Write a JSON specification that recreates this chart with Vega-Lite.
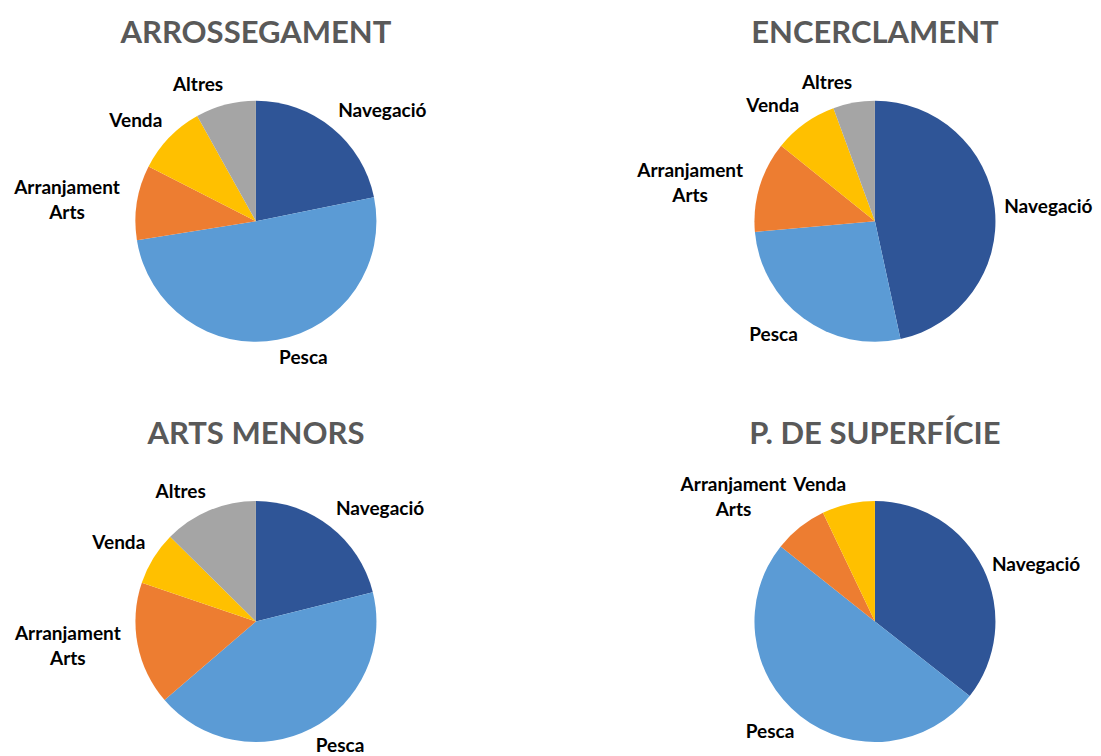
{
  "$schema": "https://vega.github.io/schema/vega-lite/v6.json",
  "width": 1101,
  "height": 756,
  "padding": 0,
  "autosize": {"type": "none"},
  "background": "white",
  "config": {
    "view": {"stroke": null},
    "font": "Lato",
    "text": {
      "radius": 130, "font": "Lato", "fontSize": 19, "fontWeight": "bold", "color": "#000000", "lineBreak": " ", "lineHeight": 25
    }
  },
  "data": {
    "values": [
      {"chart": "ARROSSEGAMENT", "col": "L", "row": "T", "cat": "Navegació", "k": 1, "v": 21.8},
      {"chart": "ARROSSEGAMENT", "col": "L", "row": "T", "cat": "Pesca", "k": 2, "v": 50.7},
      {"chart": "ARROSSEGAMENT", "col": "L", "row": "T", "cat": "Arranjament Arts", "k": 3, "v": 10.0},
      {"chart": "ARROSSEGAMENT", "col": "L", "row": "T", "cat": "Venda", "k": 4, "v": 9.4},
      {"chart": "ARROSSEGAMENT", "col": "L", "row": "T", "cat": "Altres", "k": 5, "v": 8.1},
      {"chart": "ENCERCLAMENT", "col": "R", "row": "T", "cat": "Navegació", "k": 1, "v": 46.6},
      {"chart": "ENCERCLAMENT", "col": "R", "row": "T", "cat": "Pesca", "k": 2, "v": 27.0},
      {"chart": "ENCERCLAMENT", "col": "R", "row": "T", "cat": "Arranjament Arts", "k": 3, "v": 12.2},
      {"chart": "ENCERCLAMENT", "col": "R", "row": "T", "cat": "Venda", "k": 4, "v": 8.6},
      {"chart": "ENCERCLAMENT", "col": "R", "row": "T", "cat": "Altres", "k": 5, "v": 5.6},
      {"chart": "ARTS MENORS", "col": "L", "row": "B", "cat": "Navegació", "k": 1, "v": 21.1},
      {"chart": "ARTS MENORS", "col": "L", "row": "B", "cat": "Pesca", "k": 2, "v": 42.6},
      {"chart": "ARTS MENORS", "col": "L", "row": "B", "cat": "Arranjament Arts", "k": 3, "v": 16.5},
      {"chart": "ARTS MENORS", "col": "L", "row": "B", "cat": "Venda", "k": 4, "v": 7.2},
      {"chart": "ARTS MENORS", "col": "L", "row": "B", "cat": "Altres", "k": 5, "v": 12.6},
      {"chart": "P. DE SUPERFÍCIE", "col": "R", "row": "B", "cat": "Navegació", "k": 1, "v": 35.6},
      {"chart": "P. DE SUPERFÍCIE", "col": "R", "row": "B", "cat": "Pesca", "k": 2, "v": 50.1},
      {"chart": "P. DE SUPERFÍCIE", "col": "R", "row": "B", "cat": "Arranjament Arts", "k": 3, "v": 7.2},
      {"chart": "P. DE SUPERFÍCIE", "col": "R", "row": "B", "cat": "Venda", "k": 4, "v": 7.1}
    ]
  },
  "encoding": {
    "x": {"field": "col", "type": "nominal", "scale": {"type": "point", "domain": ["L", "R"], "padding": 0.3893, "align": 0.531}, "axis": null},
    "y": {"field": "row", "type": "nominal", "scale": {"type": "point", "domain": ["T", "B"], "padding": 0.4445, "align": 0.622}, "axis": null}
  },
  "layer": [
    {
      "transform": [{"filter": "datum.chart === 'ARROSSEGAMENT'"}],
      "layer": [
        {
          "mark": {"type": "arc", "radius": 120.5},
          "encoding": {
            "theta": {"field": "v", "type": "quantitative", "stack": "normalize"},
            "color": {"field": "cat", "type": "nominal", "legend": null, "scale": {"domain": ["Navegació", "Pesca", "Arranjament Arts", "Venda", "Altres"], "range": ["#2F5597", "#5B9BD5", "#ED7D31", "#FFC000", "#A5A5A5"]}},
            "order": {"field": "k", "type": "quantitative"}
          }
        },
        {
          "mark": {"type": "text",
            "align": {"expr": "indexof(datum.cat, ' ') >= 0 ? 'center' : (sin(PI*(datum.v_start+datum.v_end)) > 0.1 ? 'left' : (sin(PI*(datum.v_start+datum.v_end)) < -0.1 ? 'right' : 'center'))"},
            "baseline": {"expr": "cos(PI*(datum.v_start+datum.v_end)) > 0.5 ? 'bottom' : (cos(PI*(datum.v_start+datum.v_end)) < -0.5 ? 'top' : 'middle')"},
            "dx": {"expr": "indexof(datum.cat, ' ') >= 0 ? (sin(PI*(datum.v_start+datum.v_end)) > 0.1 ? 1 : (sin(PI*(datum.v_start+datum.v_end)) < -0.1 ? -1 : 0)) * 5.5 * max(indexof(datum.cat, ' '), length(datum.cat) - indexof(datum.cat, ' ') - 1) : 0"},
            "dy": {"expr": "indexof(datum.cat, ' ') >= 0 ? (cos(PI*(datum.v_start+datum.v_end)) > 0.5 ? -25 : (cos(PI*(datum.v_start+datum.v_end)) < -0.5 ? 0 : -12.5)) : 0"}},
          "encoding": {
            "theta": {"field": "v", "type": "quantitative", "stack": "normalize"},
            "detail": {"field": "cat", "type": "nominal"},
            "order": {"field": "k", "type": "quantitative"},
            "text": {"field": "cat", "type": "nominal"}
          }
        }
      ]
    },
    {
      "transform": [{"filter": "datum.chart === 'ENCERCLAMENT'"}],
      "layer": [
        {
          "mark": {"type": "arc", "radius": 120.5},
          "encoding": {
            "theta": {"field": "v", "type": "quantitative", "stack": "normalize"},
            "color": {"field": "cat", "type": "nominal", "legend": null},
            "order": {"field": "k", "type": "quantitative"}
          }
        },
        {
          "mark": {"type": "text",
            "align": {"expr": "indexof(datum.cat, ' ') >= 0 ? 'center' : (sin(PI*(datum.v_start+datum.v_end)) > 0.1 ? 'left' : (sin(PI*(datum.v_start+datum.v_end)) < -0.1 ? 'right' : 'center'))"},
            "baseline": {"expr": "cos(PI*(datum.v_start+datum.v_end)) > 0.5 ? 'bottom' : (cos(PI*(datum.v_start+datum.v_end)) < -0.5 ? 'top' : 'middle')"},
            "dx": {"expr": "indexof(datum.cat, ' ') >= 0 ? (sin(PI*(datum.v_start+datum.v_end)) > 0.1 ? 1 : (sin(PI*(datum.v_start+datum.v_end)) < -0.1 ? -1 : 0)) * 5.5 * max(indexof(datum.cat, ' '), length(datum.cat) - indexof(datum.cat, ' ') - 1) : 0"},
            "dy": {"expr": "indexof(datum.cat, ' ') >= 0 ? (cos(PI*(datum.v_start+datum.v_end)) > 0.5 ? -25 : (cos(PI*(datum.v_start+datum.v_end)) < -0.5 ? 0 : -12.5)) : 0"}},
          "encoding": {
            "theta": {"field": "v", "type": "quantitative", "stack": "normalize"},
            "detail": {"field": "cat", "type": "nominal"},
            "order": {"field": "k", "type": "quantitative"},
            "text": {"field": "cat", "type": "nominal"}
          }
        }
      ]
    },
    {
      "transform": [{"filter": "datum.chart === 'ARTS MENORS'"}],
      "layer": [
        {
          "mark": {"type": "arc", "radius": 120.5},
          "encoding": {
            "theta": {"field": "v", "type": "quantitative", "stack": "normalize"},
            "color": {"field": "cat", "type": "nominal", "legend": null},
            "order": {"field": "k", "type": "quantitative"}
          }
        },
        {
          "mark": {"type": "text",
            "align": {"expr": "indexof(datum.cat, ' ') >= 0 ? 'center' : (sin(PI*(datum.v_start+datum.v_end)) > 0.1 ? 'left' : (sin(PI*(datum.v_start+datum.v_end)) < -0.1 ? 'right' : 'center'))"},
            "baseline": {"expr": "cos(PI*(datum.v_start+datum.v_end)) > 0.5 ? 'bottom' : (cos(PI*(datum.v_start+datum.v_end)) < -0.5 ? 'top' : 'middle')"},
            "dx": {"expr": "indexof(datum.cat, ' ') >= 0 ? (sin(PI*(datum.v_start+datum.v_end)) > 0.1 ? 1 : (sin(PI*(datum.v_start+datum.v_end)) < -0.1 ? -1 : 0)) * 5.5 * max(indexof(datum.cat, ' '), length(datum.cat) - indexof(datum.cat, ' ') - 1) : 0"},
            "dy": {"expr": "indexof(datum.cat, ' ') >= 0 ? (cos(PI*(datum.v_start+datum.v_end)) > 0.5 ? -25 : (cos(PI*(datum.v_start+datum.v_end)) < -0.5 ? 0 : -12.5)) : 0"}},
          "encoding": {
            "theta": {"field": "v", "type": "quantitative", "stack": "normalize"},
            "detail": {"field": "cat", "type": "nominal"},
            "order": {"field": "k", "type": "quantitative"},
            "text": {"field": "cat", "type": "nominal"}
          }
        }
      ]
    },
    {
      "transform": [{"filter": "datum.chart === 'P. DE SUPERFÍCIE'"}],
      "layer": [
        {
          "mark": {"type": "arc", "radius": 120.5},
          "encoding": {
            "theta": {"field": "v", "type": "quantitative", "stack": "normalize"},
            "color": {"field": "cat", "type": "nominal", "legend": null},
            "order": {"field": "k", "type": "quantitative"}
          }
        },
        {
          "mark": {"type": "text",
            "align": {"expr": "indexof(datum.cat, ' ') >= 0 ? 'center' : (sin(PI*(datum.v_start+datum.v_end)) > 0.1 ? 'left' : (sin(PI*(datum.v_start+datum.v_end)) < -0.1 ? 'right' : 'center'))"},
            "baseline": {"expr": "cos(PI*(datum.v_start+datum.v_end)) > 0.5 ? 'bottom' : (cos(PI*(datum.v_start+datum.v_end)) < -0.5 ? 'top' : 'middle')"},
            "dx": {"expr": "indexof(datum.cat, ' ') >= 0 ? (sin(PI*(datum.v_start+datum.v_end)) > 0.1 ? 1 : (sin(PI*(datum.v_start+datum.v_end)) < -0.1 ? -1 : 0)) * 5.5 * max(indexof(datum.cat, ' '), length(datum.cat) - indexof(datum.cat, ' ') - 1) : 0"},
            "dy": {"expr": "indexof(datum.cat, ' ') >= 0 ? (cos(PI*(datum.v_start+datum.v_end)) > 0.5 ? -25 : (cos(PI*(datum.v_start+datum.v_end)) < -0.5 ? 0 : -12.5)) : 0"}},
          "encoding": {
            "theta": {"field": "v", "type": "quantitative", "stack": "normalize"},
            "detail": {"field": "cat", "type": "nominal"},
            "order": {"field": "k", "type": "quantitative"},
            "text": {"field": "cat", "type": "nominal"}
          }
        }
      ]
    },
    {
      "transform": [{"filter": "datum.cat === 'Navegació'"}],
      "mark": {"type": "text", "radius": 0, "font": "Lato", "fontSize": 31, "fontWeight": "bold", "color": "#595959", "lineBreak": "", "align": "center", "baseline": "alphabetic", "dy": -178},
      "encoding": {
        "text": {"field": "chart", "type": "nominal"}
      }
    }
  ]
}
